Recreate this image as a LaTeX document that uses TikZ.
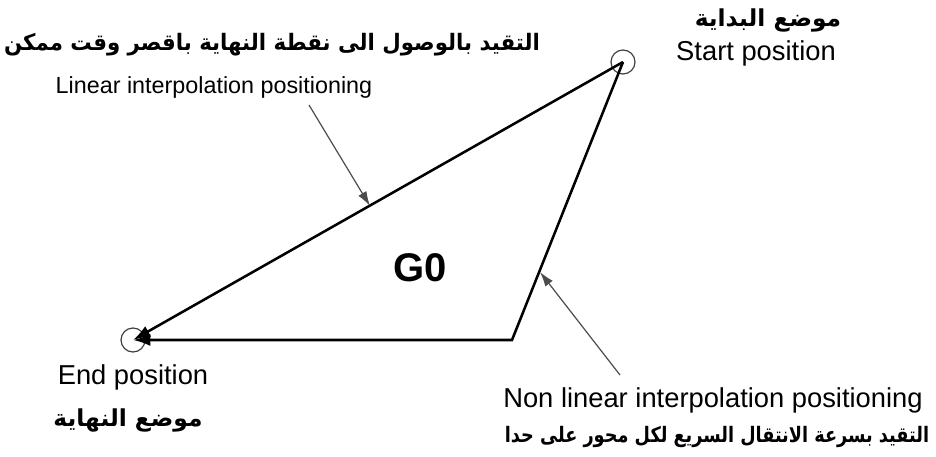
\documentclass[tikz,border=0pt]{standalone}
\usepackage{graphicx}
\usepackage{fontspec}
\setmainfont{Liberation Sans}
\newfontfamily\arabicfont[Script=Arabic]{DejaVu Sans}
\TeXXeTstate=1
\usetikzlibrary{arrows.meta}

\begin{document}
\begin{tikzpicture}[
  x=0.75pt, y=-0.75pt,
  spot/.style={draw=black!75, circle, line width=0.9pt, minimum size=18pt, inner sep=0pt},
  route/.style={line width=1.9pt, -{Latex[length=13pt, width=9pt]}},
  pointer/.style={draw=black!70, line width=0.9pt, -{Latex[length=11pt, width=7pt]}},
  entext/.style={inner sep=0pt, font=\fontsize{20.5}{24}\selectfont},
  artext/.style={inner sep=0pt, font=\arabicfont\bfseries\fontsize{17.5}{21}\selectfont}
]
\useasboundingbox (0,0) rectangle (936,457);

% points
\node[spot] (start) at (623,62) {};
\node[spot] (end) at (133,340) {};
\coordinate (corner) at (512,340);

% paths
\draw[route] (start.center) -- (end.center);
\draw[route] (start.center) -- (corner) -- (end.center);

% labels
\node[artext, font=\arabicfont\bfseries\fontsize{17}{21}\selectfont] (shortest) at (272,45) {\scalebox{0.94}[1]{\beginR التقيد بالوصول الى نقطة النهاية باقصر وقت ممكن\endR}};
\node[entext, font=\fontsize{17.5}{21}\selectfont] (linear) at (214,87) {Linear interpolation positioning};
\node[artext] (startar) at (768,20) {\beginR موضع البداية\endR};
\node[entext] (startpos) at (756,53) {Start position};
\node[entext] (endpos) at (133,377) {End position};
\node[artext] (endar) at (128,420) {\beginR موضع النهاية\endR};
\node[entext] (nonlinear) at (713,400) {Non linear interpolation positioning};
\node[artext, font=\arabicfont\bfseries\fontsize{16}{20}\selectfont] (rapid) at (717,437) {\scalebox{0.83}[1]{\beginR التقيد بسرعة الانتقال السريع لكل محور على حدا\endR}};
\node[inner sep=0pt, font=\bfseries\fontsize{30}{34}\selectfont] (gzero) at (420,268) {G0};

% pointers
\coordinate (lintail) at (309,105);
\coordinate (linhead) at (370,206);
\coordinate (nontail) at (620,375);
\coordinate (nonhead) at (540,272);
\draw[pointer] (lintail) -- (linhead);
\draw[pointer] (nontail) -- (nonhead);
\end{tikzpicture}
\end{document}
